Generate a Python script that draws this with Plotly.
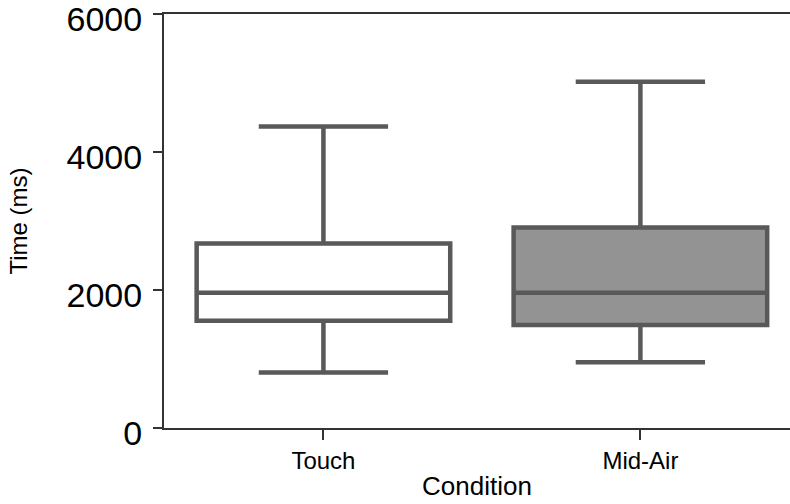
import plotly.graph_objects as go

categories = ["Touch", "Mid-Air"]
q1_vals = [1556, 1493]
median_vals = [1960, 1960]
q3_vals = [2675, 2906]
lower_vals = [804, 954]
upper_vals = [4370, 5020]
fill_colors = ["#ffffff", "#939393"]
y_ticks = [0, 2000, 4000, 6000]

fig = go.Figure()
for i, cat in enumerate(categories):
    fig.add_trace(go.Box(
        x=[cat], q1=[q1_vals[i]], median=[median_vals[i]], q3=[q3_vals[i]],
        lowerfence=[lower_vals[i]], upperfence=[upper_vals[i]],
        boxpoints=False, whiskerwidth=0.51, width=0.8,
        fillcolor=fill_colors[i],
        line=dict(color="#595959", width=4.5),
        showlegend=False, hoverinfo="skip",
    ))

font_family = "Liberation Sans"
fig.update_layout(
    width=790, height=504,
    margin=dict(l=164, r=0, t=14, b=76),
    paper_bgcolor="white", plot_bgcolor="white",
    font=dict(family=font_family, color="#000000"),
    xaxis=dict(
        categoryorder="array", categoryarray=categories,
        range=[-0.503, 1.472],
        showline=True, linecolor="#333333", linewidth=2, mirror=True,
        ticks="outside", ticklen=10, tickwidth=2, tickcolor="#333333",
        tickfont=dict(size=24, family=font_family),
        showgrid=False, zeroline=False,
        title=dict(text="Condition", font=dict(size=26, family=font_family), standoff=4),
    ),
    yaxis=dict(
        range=[0, 6000.5], tickvals=y_ticks, ticktext=[str(v) for v in y_ticks],
        showline=True, linecolor="#333333", linewidth=2,
        ticks="outside", ticklen=9, tickwidth=2, tickcolor="#333333",
        tickfont=dict(size=34, family=font_family),
        ticklabelstandoff=4, ticklabelshift=5, ticklabeloverflow="allow",
        showgrid=False, zeroline=False,
        title=dict(text="Time (ms)", font=dict(size=24, family=font_family), standoff=32),
    ),
)

fig.write_html("out.html")
